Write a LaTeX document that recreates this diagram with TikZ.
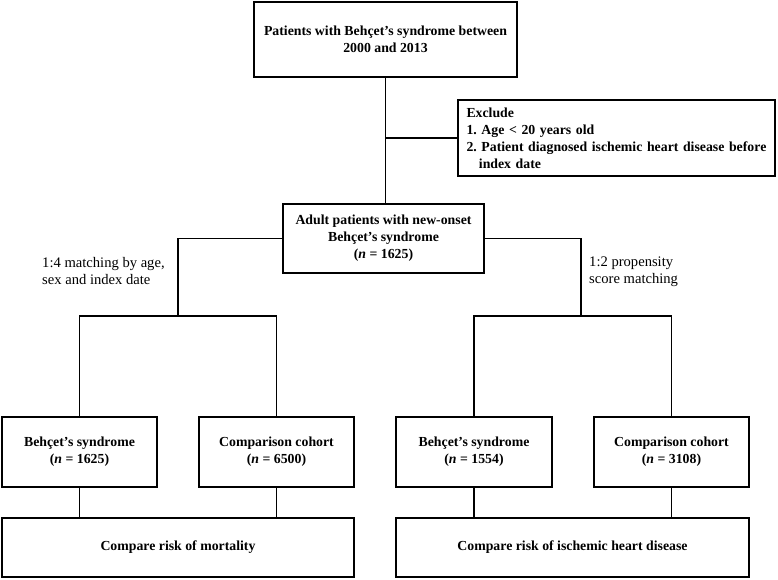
\documentclass[tikz,border=0pt]{standalone}
\usepackage{fontspec}
\setmainfont{Liberation Serif}
\frenchspacing
\begin{document}
\begin{tikzpicture}[x=1pt,y=-1pt,
  box/.style={draw,line width=1.1pt,align=center,font=\bfseries\fontsize{13.8}{17}\selectfont,inner sep=0pt},
  lbl/.style={align=left,font=\fontsize{14.6}{17}\selectfont,inner sep=0pt,anchor=west},
  conn/.style={line width=1.1pt}]
\useasboundingbox (0,0) rectangle (778,580);
\node[box,minimum width=263pt,minimum height=75pt] (top) at (385.5,39.5) {Patients with Behçet’s syndrome between\\2000 and 2013};
\node[box,minimum width=317pt,minimum height=76pt,align=left,text width=300pt] (excl) at (616.5,138) {Exclude\\1. Age < 20 years old\\2. Patient diagnosed ischemic heart disease before\\\hspace*{0.9em}index date};
\node[box,minimum width=201pt,minimum height=69pt] (mid) at (383.5,238.5) {Adult patients with new-onset\\Behçet’s syndrome\\(\textit{n} = 1625)};
\node[box,minimum width=155pt,minimum height=70pt] (b1) at (79.5,452) {Behçet’s syndrome\\(\textit{n} = 1625)};
\node[box,minimum width=155pt,minimum height=70pt] (b2) at (276.5,452) {Comparison cohort\\(\textit{n} = 6500)};
\node[box,minimum width=156pt,minimum height=70pt] (b3) at (474,452) {Behçet’s syndrome\\(\textit{n} = 1554)};
\node[box,minimum width=155pt,minimum height=70pt] (b4) at (671.5,452) {Comparison cohort\\(\textit{n} = 3108)};
\node[box,minimum width=352pt,minimum height=59pt] (c1) at (178,547.5) {Compare risk of mortality};
\node[box,minimum width=353pt,minimum height=59pt] (c2) at (572.5,547.5) {Compare risk of ischemic heart disease};
\node[lbl] (l1) at (42,271.5) {1:4 matching by age,\\sex and index date};
\node[lbl] (l2) at (589,271.5) {1:2 propensity\\score matching};
\coordinate (jl) at (178,316);
\coordinate (jr) at (581,316);
\draw[conn] (top.south) -- (top.south |- mid.north);
\draw[conn] (top.south |- excl.west) -- (excl.west);
\draw[conn] (mid.west) -| (jl);
\draw[conn] (mid.east) -| (jr);
\draw[conn] (b1.north) |- (jl) -| (b2.north);
\draw[conn] (b3.north) |- (jr) -| (b4.north);
\draw[conn] (b1.south) -- (b1.south |- c1.north);
\draw[conn] (b2.south) -- (b2.south |- c1.north);
\draw[conn] (b3.south) -- (b3.south |- c2.north);
\draw[conn] (b4.south) -- (b4.south |- c2.north);
\end{tikzpicture}
\end{document}
